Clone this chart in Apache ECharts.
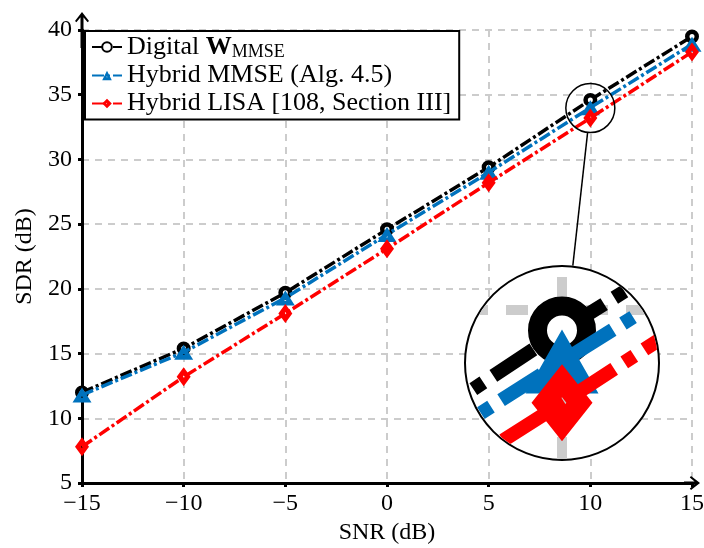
<!DOCTYPE html>
<html>
<head>
<meta charset="utf-8">
<script src="https://cdn.jsdelivr.net/npm/echarts@6/dist/echarts.min.js"></script>
<style>
  html, body { margin: 0; padding: 0; background: #fff; }
  #main { position: absolute; left: 0; top: 0; width: 704px; height: 548px; }
  #spy { position: absolute; left: 464px; top: 265px; width: 196px; height: 196px;
         box-sizing: border-box; border: 2px solid #000; border-radius: 50%;
         overflow: hidden; background: #fff; }
  #spyChart { width: 192px; height: 192px; }
</style>
</head>
<body>
<div id="main"></div>
<div id="spy"><div id="spyChart"></div></div>
<script>
// ---- data ----
const snr = [-15, -10, -5, 0, 5, 10, 15];
const digitalW = [12.0, 15.4, 19.7, 24.6, 29.4, 34.6, 39.5];
const hybridMMSE = [11.8, 15.1, 19.3, 24.2, 29.0, 34.0, 38.9];
const hybridLISA = [7.8, 13.2, 18.1, 23.1, 28.2, 33.2, 38.3];
const seriesNames = ['Digital W_MMSE', 'Hybrid MMSE (Alg. 4.5)', 'Hybrid LISA [108, Section III]'];
const xTicks = { min: -15, max: 15, step: 5 };
const yTicks = { min: 5, max: 40, step: 5 };
// zoom (spy) settings
const spyCenter = [10, 33.97];
const spyZoom = 4;

const FONT = "'Liberation Serif', 'Times New Roman', serif";
const BLUE = '#0072BD', RED = '#FF0000', BLACK = '#000000';
const TRI = 'path://M10,0 L20,17 L0,17 Z M10,9.6 L8.9,11.6 L11.1,11.6 Z';
const DIA = 'path://M7,0 L14,9.5 L7,19 L0,9.5 Z M7,8.1 L6,9.5 L7,10.9 L8,9.5 Z';
const ARROW_Y = 'path://M7,0 L14,9 L12.6,10.2 L7,3.6 L1.4,10.2 L0,9 Z M5.5,2 L8.5,2 L8.5,36 L5.5,36 Z';
const ARROW_X = 'path://M7,0 L14,9 L12.6,10.2 L7,3.6 L1.4,10.2 L0,9 Z M5.5,2 L8.5,2 L8.5,16 L5.5,16 Z';

const pair = arr => snr.map((x, i) => [x, arr[i]]);

function makeSeries(scale) {
  const s = scale;
  const dash = [12 * s, 3 * s, 3 * s, 3 * s];
  return [
    {
      name: seriesNames[0], type: 'line', data: pair(digitalW), z: 3,
      symbol: 'circle', symbolSize: s === 1 ? 9.5 : 49,
      itemStyle: { color: '#fff', borderColor: BLACK, borderWidth: s === 1 ? 4.5 : 19 },
      lineStyle: { color: BLACK, width: 3.5 * s, type: dash, cap: 'butt' },
      emphasis: { disabled: true }
    },
    {
      name: seriesNames[1], type: 'line', data: pair(hybridMMSE), z: 4,
      symbol: TRI, symbolSize: s === 1 ? [19, 15] : [73, 64],
      itemStyle: { color: BLUE, borderWidth: 0 },
      lineStyle: { color: BLUE, width: 3.5 * s, type: dash, cap: 'butt' },
      emphasis: { disabled: true }
    },
    {
      name: seriesNames[2], type: 'line', data: pair(hybridLISA), z: 5,
      symbol: DIA, symbolSize: s === 1 ? [14, 19] : [61, 77],
      itemStyle: { color: RED, borderWidth: 0 },
      lineStyle: { color: RED, width: 3.5 * s, type: dash, cap: 'butt' },
      emphasis: { disabled: true }
    }
  ];
}

const minus = v => String(v).replace('-', '\u2212');

const chart = echarts.init(document.getElementById('main'), null, { renderer: 'canvas' });
chart.setOption({
  animation: false,
  backgroundColor: '#fff',
  textStyle: { fontFamily: FONT },
  grid: { left: 82, right: 12, top: 30, bottom: 65, containLabel: false, outerBoundsMode: 'none' },
  xAxis: {
    type: 'value', min: xTicks.min, max: xTicks.max, interval: xTicks.step,
    name: 'SNR (dB)', nameLocation: 'middle', nameGap: 37,
    nameTextStyle: { fontFamily: FONT, fontSize: 24, color: '#000' },
    axisLine: { onZero: false, lineStyle: { color: '#000', width: 3 }, symbol: ['none', ARROW_X], symbolSize: [14, 16] },
    axisTick: { show: true, length: 4, lineStyle: { color: '#000', width: 3 } },
    axisLabel: { fontFamily: FONT, fontSize: 24, color: '#000', margin: 9, formatter: minus },
    splitLine: { show: true, lineStyle: { color: '#cccccc', width: 2, type: [7, 6] } }
  },
  yAxis: {
    type: 'value', min: yTicks.min, max: yTicks.max, interval: yTicks.step,
    name: 'SDR (dB)', nameLocation: 'middle', nameGap: 44,
    nameTextStyle: { fontFamily: FONT, fontSize: 24, color: '#000' },
    axisLine: { onZero: false, lineStyle: { color: '#000', width: 3 }, symbol: ['none', ARROW_Y], symbolSize: [14, 36] },
    axisTick: { show: true, length: 4, lineStyle: { color: '#000', width: 3 } },
    axisLabel: { fontFamily: FONT, fontSize: 24, color: '#000', margin: 10, formatter: minus },
    splitLine: { show: true, lineStyle: { color: '#cccccc', width: 2, type: [7, 6] } }
  },
  legend: {
    orient: 'vertical', left: 85, top: 31,
    backgroundColor: '#fff', borderColor: '#000', borderWidth: 2,
    padding: [2, 8, 2, 6], itemGap: 0, itemWidth: 30, itemHeight: 12,
    selectedMode: false,
    data: seriesNames,
    textStyle: {
      fontFamily: FONT, fontSize: 26, color: '#000', lineHeight: 28,
      rich: {
        n: { fontFamily: FONT, fontSize: 26, color: '#000', lineHeight: 28 },
        b: { fontFamily: FONT, fontSize: 26, fontWeight: 'bold', color: '#000', lineHeight: 28 },
        s: { fontFamily: FONT, fontSize: 18, color: '#000', padding: [11, 0, 0, 0] }
      }
    },
    formatter: function (name) {
      if (name === seriesNames[0]) return '{n|Digital }{b|W}{s|MMSE}';
      return name;
    }
  },
  series: makeSeries(1)
});

// --- magnifier (spy) ---
const p0 = chart.convertToPixel({ xAxisIndex: 0, yAxisIndex: 0 }, [xTicks.min, yTicks.min]);
const p1 = chart.convertToPixel({ xAxisIndex: 0, yAxisIndex: 0 }, [xTicks.max, yTicks.max]);
const pxPerX = (p1[0] - p0[0]) / (xTicks.max - xTicks.min);
const pxPerY = (p0[1] - p1[1]) / (yTicks.max - yTicks.min);
const spyInner = 192;
const hx = spyInner / 2 / (pxPerX * spyZoom);
const hy = spyInner / 2 / (pxPerY * spyZoom);

const spy = echarts.init(document.getElementById('spyChart'), null, { renderer: 'canvas' });
const spySeries = makeSeries(spyZoom);
spySeries.unshift({
  type: 'line', data: [], z: 0, silent: true,
  markLine: {
    z: 0, silent: true, symbol: ['none', 'none'], label: { show: false },
    emphasis: { disabled: true },
    lineStyle: { color: '#cccccc', width: 10, type: [22, 18] },
    data: [{ xAxis: 10 }, { yAxis: 35 }]
  }
});
spy.setOption({
  animation: false,
  grid: { left: 0, right: 0, top: 0, bottom: 0, containLabel: false, outerBoundsMode: 'none' },
  xAxis: { type: 'value', min: spyCenter[0] - hx, max: spyCenter[0] + hx, show: false, splitLine: { show: false } },
  yAxis: { type: 'value', min: spyCenter[1] - hy, max: spyCenter[1] + hy, show: false, splitLine: { show: false } },
  series: spySeries
});

// small circle + connector in main chart
const c = chart.convertToPixel({ xAxisIndex: 0, yAxisIndex: 0 }, spyCenter);
const rSmall = 98 / spyZoom;
const big = [464 + 98, 265 + 98], rBig = 98;
const dx = big[0] - c[0], dy = big[1] - c[1];
const L = Math.sqrt(dx * dx + dy * dy);
const ux = dx / L, uy = dy / L;
chart.setOption({
  graphic: [
    { type: 'circle', shape: { cx: c[0], cy: c[1], r: rSmall }, style: { fill: 'none', stroke: '#000', lineWidth: 1.5 }, z: 100, silent: true },
    { type: 'line', shape: { x1: c[0] + ux * rSmall, y1: c[1] + uy * rSmall, x2: big[0] - ux * rBig, y2: big[1] - uy * rBig },
      style: { stroke: '#000', lineWidth: 1.5 }, z: 100, silent: true }
  ]
});
</script>
</body>
</html>
